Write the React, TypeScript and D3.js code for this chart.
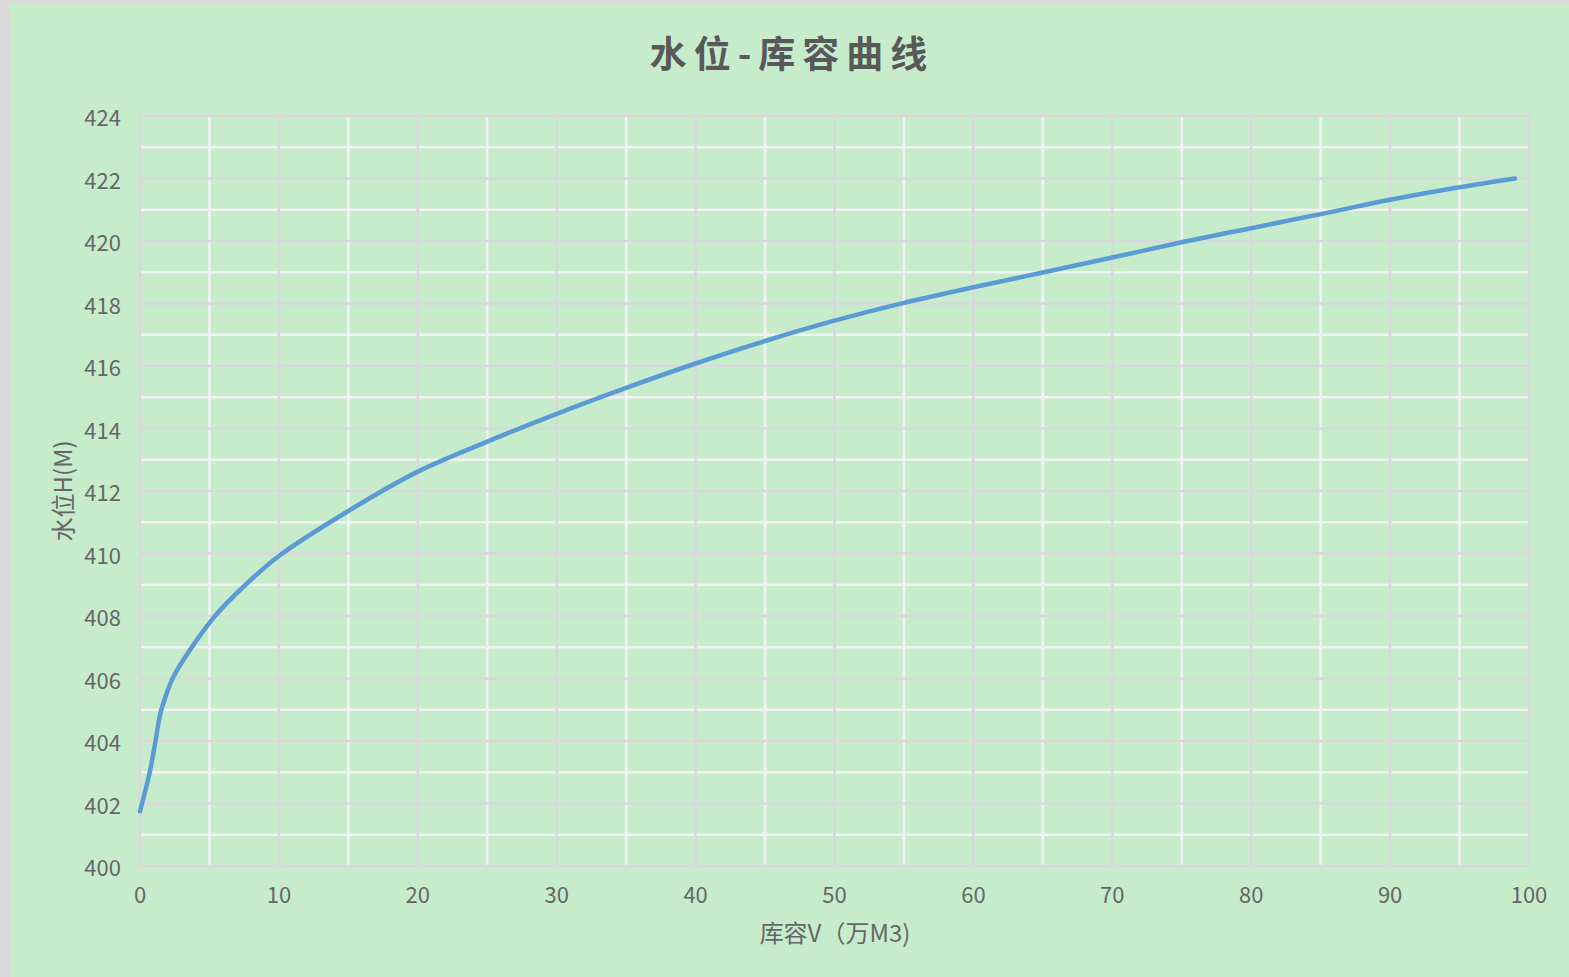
import React from "react";
import * as d3 from "d3";

const storage: number[] = [0, 0.7, 1.1, 1.45, 1.9, 2.4, 3.5, 5.4, 7.6, 10, 15, 20, 25, 30, 35, 40, 45, 50, 55, 60, 65, 70, 75, 80, 85, 90, 95, 99];
const level: number[] = [401.75, 403, 403.95, 404.85, 405.5, 406.05, 406.85, 408, 409, 409.92, 411.36, 412.62, 413.58, 414.47, 415.3, 416.08, 416.8, 417.45, 418.02, 418.52, 418.99, 419.47, 419.96, 420.41, 420.86, 421.32, 421.72, 422.0];
const xTicks: number[] = [0, 10, 20, 30, 40, 50, 60, 70, 80, 90, 100];
const yTicks: number[] = [400, 402, 404, 406, 408, 410, 412, 414, 416, 418, 420, 422, 424];
const xMinor: number[] = [5, 15, 25, 35, 45, 55, 65, 75, 85, 95];
const yMinor: number[] = [401, 403, 405, 407, 409, 411, 413, 415, 417, 419, 421, 423];

const W = 1569;
const H = 977;
const FONT = "'Noto Sans CJK SC', 'Noto Sans', sans-serif";

export default function App() {
  const x = d3.scaleLinear().domain([0, 100]).range([140, 1529]);
  const y = d3.scaleLinear().domain([400, 424]).range([866, 116]);
  const pts: [number, number][] = storage.map((v, i) => [v, level[i]]);
  const line = d3
    .line<[number, number]>()
    .x((d) => x(d[0]))
    .y((d) => y(d[1]))
    .curve(d3.curveCatmullRom.alpha(0.5));

  return (
    <div style={{ position: "absolute", left: 0, top: 0 }}>
      <svg width={W} height={H} style={{ display: "block" }}>
        <rect x={0} y={0} width={W} height={H} fill="#d9d9d9" />
        <rect x={9} y={4} width={W - 9} height={H - 4} fill="#c7eccc" />
        <text
          x={792}
          y={52}
          textAnchor="middle"
          dominantBaseline="central"
          fontFamily={FONT}
          fontWeight="bold"
          fontSize={37}
          letterSpacing={7}
          fill="#595959"
        >
          水位-库容曲线
        </text>
        {xMinor.map((t) => (
          <line key={"xm" + t} x1={x(t)} x2={x(t)} y1={y(424)} y2={y(400)} stroke="#f2f2f2" strokeWidth={2.5} />
        ))}
        {yMinor.map((t) => (
          <line key={"ym" + t} x1={x(0)} x2={x(100)} y1={y(t)} y2={y(t)} stroke="#f2f2f2" strokeWidth={2.5} />
        ))}
        {xTicks.map((t) => (
          <line key={"xM" + t} x1={x(t)} x2={x(t)} y1={y(424)} y2={y(400)} stroke="#d9d9d9" strokeWidth={2.5} />
        ))}
        {yTicks.map((t) => (
          <line key={"yM" + t} x1={x(0)} x2={x(100)} y1={y(t)} y2={y(t)} stroke="#d9d9d9" strokeWidth={2.5} />
        ))}
        {yTicks.map((t) => (
          <text
            key={"yl" + t}
            x={121}
            y={y(t)}
            textAnchor="end"
            dominantBaseline="central"
            fontFamily={FONT}
            fontSize={22}
            fill="#666666"
          >
            {t}
          </text>
        ))}
        {xTicks.map((t) => (
          <text
            key={"xl" + t}
            x={x(t)}
            y={893}
            textAnchor="middle"
            dominantBaseline="central"
            fontFamily={FONT}
            fontSize={22}
            fill="#666666"
          >
            {t}
          </text>
        ))}
        <path d={line(pts) || ""} fill="none" stroke="#5b9bd5" strokeWidth={4.5} strokeLinecap="round" />
        <text
          x={835}
          y={931}
          textAnchor="middle"
          dominantBaseline="central"
          fontFamily={FONT}
          fontSize={24}
          fill="#666666"
        >
          库容V（万M3)
        </text>
        <text
          transform={`translate(61,491) rotate(-90)`}
          textAnchor="middle"
          dominantBaseline="central"
          fontFamily={FONT}
          fontSize={24}
          fill="#666666"
        >
          水位H(M)
        </text>
      </svg>
    </div>
  );
}
